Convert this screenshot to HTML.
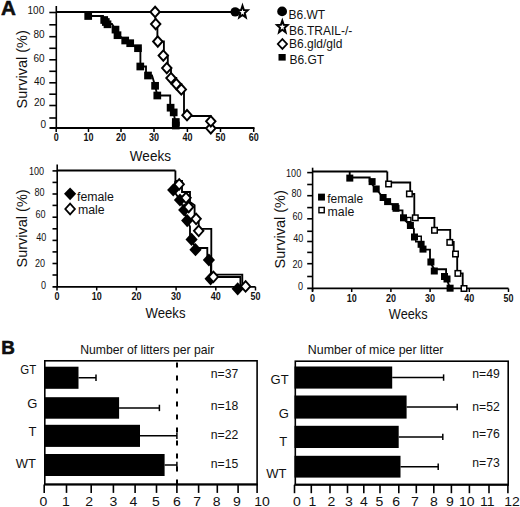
<!DOCTYPE html>
<html><head><meta charset="utf-8"><style>
html,body{margin:0;padding:0;background:#fff;}
svg{display:block;font-family:"Liberation Sans", sans-serif;}
</style></head><body>
<svg width="520" height="507" viewBox="0 0 520 507" fill="#111">
<text x="0.9" y="15.1" font-size="20.6" font-weight="700" text-anchor="start" stroke="#000" stroke-width="0.5">A</text>
<line x1="56.3" y1="6" x2="56.3" y2="128.8" stroke="#000" stroke-width="1.6"/>
<line x1="49.3" y1="12.5" x2="56.3" y2="12.5" stroke="#000" stroke-width="1.6"/>
<line x1="49.3" y1="24.8" x2="56.3" y2="24.8" stroke="#000" stroke-width="1.6"/>
<line x1="49.3" y1="36.7" x2="56.3" y2="36.7" stroke="#000" stroke-width="1.6"/>
<line x1="49.3" y1="48.3" x2="56.3" y2="48.3" stroke="#000" stroke-width="1.6"/>
<line x1="49.3" y1="59.8" x2="56.3" y2="59.8" stroke="#000" stroke-width="1.6"/>
<line x1="49.3" y1="71.3" x2="56.3" y2="71.3" stroke="#000" stroke-width="1.6"/>
<line x1="49.3" y1="82.8" x2="56.3" y2="82.8" stroke="#000" stroke-width="1.6"/>
<line x1="49.3" y1="94.2" x2="56.3" y2="94.2" stroke="#000" stroke-width="1.6"/>
<line x1="49.3" y1="105.5" x2="56.3" y2="105.5" stroke="#000" stroke-width="1.6"/>
<line x1="49.3" y1="118" x2="56.3" y2="118" stroke="#000" stroke-width="1.6"/>
<text transform="translate(44.2,13.8) scale(1.0,1)" x="0" y="0" font-size="10" text-anchor="end" fill="#111">100</text>
<text transform="translate(44.5,38.2) scale(1.0,1)" x="0" y="0" font-size="10" text-anchor="end" fill="#111">80</text>
<text transform="translate(44.5,62.3) scale(1.0,1)" x="0" y="0" font-size="10" text-anchor="end" fill="#111">60</text>
<text transform="translate(45,85) scale(1.0,1)" x="0" y="0" font-size="10" text-anchor="end" fill="#111">40</text>
<text transform="translate(45,105.6) scale(1.0,1)" x="0" y="0" font-size="10" text-anchor="end" fill="#111">20</text>
<text transform="translate(46,127.5) scale(1.0,1)" x="0" y="0" font-size="10" text-anchor="end" fill="#111">0</text>
<text x="0" y="0" font-size="14.5" font-weight="400" text-anchor="middle" transform="translate(26.8,69.3) rotate(-90)" fill="#111">Survival (%)</text>
<line x1="49.5" y1="128" x2="254.5" y2="128" stroke="#000" stroke-width="1.8"/>
<line x1="56.2" y1="128" x2="56.2" y2="132" stroke="#000" stroke-width="1.5"/>
<text transform="translate(56.2,141.3) scale(0.9,1)" x="0" y="0" font-size="10" font-weight="700" text-anchor="middle" fill="#111">0</text>
<line x1="88.5" y1="128" x2="88.5" y2="132" stroke="#000" stroke-width="1.5"/>
<text transform="translate(88.5,141.3) scale(0.9,1)" x="0" y="0" font-size="10" font-weight="700" text-anchor="middle" fill="#111">10</text>
<line x1="121" y1="128" x2="121" y2="132" stroke="#000" stroke-width="1.5"/>
<text transform="translate(121,141.3) scale(0.9,1)" x="0" y="0" font-size="10" font-weight="700" text-anchor="middle" fill="#111">20</text>
<line x1="154" y1="128" x2="154" y2="132" stroke="#000" stroke-width="1.5"/>
<text transform="translate(154,141.3) scale(0.9,1)" x="0" y="0" font-size="10" font-weight="700" text-anchor="middle" fill="#111">30</text>
<line x1="187.4" y1="128" x2="187.4" y2="132" stroke="#000" stroke-width="1.5"/>
<text transform="translate(187.4,141.3) scale(0.9,1)" x="0" y="0" font-size="10" font-weight="700" text-anchor="middle" fill="#111">40</text>
<line x1="220.5" y1="128" x2="220.5" y2="132" stroke="#000" stroke-width="1.5"/>
<text transform="translate(220.5,141.3) scale(0.9,1)" x="0" y="0" font-size="10" font-weight="700" text-anchor="middle" fill="#111">50</text>
<line x1="253.7" y1="128" x2="253.7" y2="132" stroke="#000" stroke-width="1.5"/>
<text transform="translate(253.7,141.3) scale(0.9,1)" x="0" y="0" font-size="10" font-weight="700" text-anchor="middle" fill="#111">60</text>
<text transform="translate(150.4,161.3) scale(0.98,1)" x="0" y="0" font-size="13.8" font-weight="400" text-anchor="middle" fill="#111">Weeks</text>
<line x1="56.3" y1="12" x2="236" y2="12" stroke="#000" stroke-width="1.9"/>
<circle cx="235.2" cy="11.9" r="4.7" fill="#000"/>
<polygon points="242.50,5.76 243.91,9.97 247.83,10.21 244.78,13.05 245.79,17.41 242.50,14.96 239.21,17.41 240.22,13.05 237.17,10.21 241.09,9.97" fill="#fff" stroke="#000" stroke-width="2.0" stroke-linejoin="miter"/>
<polyline points="155,12 155.7,24.1 157.4,24.1 157.4,41.5 163.9,41.5 163.9,55.6 167.8,55.6 167.8,68 171,68 171,78 176.3,78 176.3,84 181.3,84 181.3,89.4 184,89.4 184,116 210.7,116 210.7,128" fill="none" stroke="#000" stroke-width="1.85" stroke-linejoin="miter"/>
<polyline points="56.3,12 88.2,12 88.2,16 103,16 103,20 105.8,20 105.8,24 112,24 115.5,29.6 117.5,35.2 121,37 125,40.5 130,43 138,48.2 140.4,48.2 140.4,66.5 146,66.5 146,75.5 152,75.5 155.1,85.8 157.3,95.5 170.2,95.5 170.2,107.7 173.7,112.4 175.8,125.5" fill="none" stroke="#000" stroke-width="1.85" stroke-linejoin="miter"/>
<rect x="84.35" y="12.15" width="7.7" height="7.7" fill="#000"/>
<rect x="100.35" y="16.15" width="7.7" height="7.7" fill="#000"/>
<rect x="101.95" y="18.15" width="7.7" height="7.7" fill="#000"/>
<rect x="103.65" y="20.45" width="7.7" height="7.7" fill="#000"/>
<rect x="111.65" y="25.75" width="7.7" height="7.7" fill="#000"/>
<rect x="113.65" y="31.35" width="7.7" height="7.7" fill="#000"/>
<rect x="121.35" y="36.65" width="7.7" height="7.7" fill="#000"/>
<rect x="126.35" y="39.35" width="7.7" height="7.7" fill="#000"/>
<rect x="134.15" y="44.35" width="7.7" height="7.7" fill="#000"/>
<rect x="136.45" y="62.65" width="7.7" height="7.7" fill="#000"/>
<rect x="144.15" y="71.65" width="7.7" height="7.7" fill="#000"/>
<rect x="151.25" y="81.95" width="7.7" height="7.7" fill="#000"/>
<rect x="153.45" y="91.65" width="7.7" height="7.7" fill="#000"/>
<rect x="166.75" y="103.85" width="7.7" height="7.7" fill="#000"/>
<rect x="169.85" y="108.55" width="7.7" height="7.7" fill="#000"/>
<rect x="171.95" y="118.15" width="7.7" height="7.7" fill="#000"/>
<rect x="171.95" y="121.65" width="7.7" height="7.7" fill="#000"/>
<polygon points="155.1,6.72 159.80,11.9 155.1,17.08 150.40,11.9" fill="#fff" stroke="#000" stroke-width="1.95"/>
<polygon points="155.7,18.92 160.40,24.1 155.7,29.28 151.00,24.1" fill="#fff" stroke="#000" stroke-width="1.95"/>
<polygon points="157.8,36.32 162.50,41.5 157.8,46.68 153.10,41.5" fill="#fff" stroke="#000" stroke-width="1.95"/>
<polygon points="163.3,50.42 168.00,55.6 163.3,60.78 158.60,55.6" fill="#fff" stroke="#000" stroke-width="1.95"/>
<polygon points="166.8,62.92 171.50,68.1 166.8,73.28 162.10,68.1" fill="#fff" stroke="#000" stroke-width="1.95"/>
<polygon points="171,72.92 175.70,78.1 171,83.28 166.30,78.1" fill="#fff" stroke="#000" stroke-width="1.95"/>
<polygon points="176.3,78.82 181.00,84 176.3,89.18 171.60,84" fill="#fff" stroke="#000" stroke-width="1.95"/>
<polygon points="181.3,84.22 186.00,89.4 181.3,94.58 176.60,89.4" fill="#fff" stroke="#000" stroke-width="1.95"/>
<polygon points="187,110.02 191.70,115.2 187,120.38 182.30,115.2" fill="#fff" stroke="#000" stroke-width="1.95"/>
<polygon points="210.8,123.12 215.50,128.3 210.8,133.48 206.10,128.3" fill="#fff" stroke="#000" stroke-width="1.95"/>
<polygon points="210.8,116.12 215.50,121.3 210.8,126.48 206.10,121.3" fill="#fff" stroke="#000" stroke-width="1.95"/>
<circle cx="282.1" cy="11.4" r="4.9" fill="#000"/>
<text x="288.5" y="19.2" font-size="12" font-weight="400" text-anchor="start">B6.WT</text>
<polygon points="282.30,20.56 283.71,24.77 287.63,25.01 284.58,27.85 285.59,32.21 282.30,29.76 279.01,32.21 280.02,27.85 276.97,25.01 280.89,24.77" fill="#fff" stroke="#000" stroke-width="2.0" stroke-linejoin="miter"/>
<text x="289" y="34.6" font-size="12" font-weight="400" text-anchor="start">B6.TRAIL-/-</text>
<polygon points="282.4,39.10 287.00,44 282.4,48.90 277.80,44" fill="#fff" stroke="#000" stroke-width="1.8"/>
<text x="289" y="48.1" font-size="12" font-weight="400" text-anchor="start">B6.gld/gld</text>
<rect x="278.5" y="54" width="7.2" height="6.6" fill="#000"/>
<text x="289.4" y="64" font-size="12" font-weight="400" text-anchor="start">B6.GT</text>
<line x1="57.2" y1="164.5" x2="57.2" y2="287.2" stroke="#000" stroke-width="1.6"/>
<line x1="52.5" y1="170.9" x2="57.2" y2="170.9" stroke="#000" stroke-width="1.6"/>
<line x1="52.5" y1="182.4" x2="57.2" y2="182.4" stroke="#000" stroke-width="1.6"/>
<line x1="52.5" y1="194" x2="57.2" y2="194" stroke="#000" stroke-width="1.6"/>
<line x1="52.5" y1="205.4" x2="57.2" y2="205.4" stroke="#000" stroke-width="1.6"/>
<line x1="52.5" y1="217.2" x2="57.2" y2="217.2" stroke="#000" stroke-width="1.6"/>
<line x1="52.5" y1="228.8" x2="57.2" y2="228.8" stroke="#000" stroke-width="1.6"/>
<line x1="52.5" y1="240.4" x2="57.2" y2="240.4" stroke="#000" stroke-width="1.6"/>
<line x1="52.5" y1="251.9" x2="57.2" y2="251.9" stroke="#000" stroke-width="1.6"/>
<line x1="52.5" y1="263.5" x2="57.2" y2="263.5" stroke="#000" stroke-width="1.6"/>
<line x1="52.5" y1="275" x2="57.2" y2="275" stroke="#000" stroke-width="1.6"/>
<text transform="translate(44,175.3) scale(0.88,1)" x="0" y="0" font-size="10.3" text-anchor="end" fill="#111">100</text>
<text transform="translate(44.5,195.5) scale(0.88,1)" x="0" y="0" font-size="10.3" text-anchor="end" fill="#111">80</text>
<text transform="translate(45.5,218.2) scale(0.88,1)" x="0" y="0" font-size="10.3" text-anchor="end" fill="#111">60</text>
<text transform="translate(46.4,240.6) scale(0.88,1)" x="0" y="0" font-size="10.3" text-anchor="end" fill="#111">40</text>
<text transform="translate(45,266.7) scale(0.88,1)" x="0" y="0" font-size="10.3" text-anchor="end" fill="#111">20</text>
<text transform="translate(46,289) scale(0.88,1)" x="0" y="0" font-size="10.3" text-anchor="end" fill="#111">0</text>
<text x="0" y="0" font-size="14.5" font-weight="400" text-anchor="middle" transform="translate(26.8,228.4) rotate(-90)" fill="#111">Survival (%)</text>
<line x1="52.5" y1="286.8" x2="255.5" y2="286.8" stroke="#000" stroke-width="1.8"/>
<line x1="57.0" y1="286.8" x2="57.0" y2="290.5" stroke="#000" stroke-width="1.5"/>
<text transform="translate(57.0,299.9) scale(0.9,1)" x="0" y="0" font-size="10" font-weight="700" text-anchor="middle" fill="#111">0</text>
<line x1="96.7" y1="286.8" x2="96.7" y2="290.5" stroke="#000" stroke-width="1.5"/>
<text transform="translate(96.7,299.9) scale(0.9,1)" x="0" y="0" font-size="10" font-weight="700" text-anchor="middle" fill="#111">10</text>
<line x1="136.4" y1="286.8" x2="136.4" y2="290.5" stroke="#000" stroke-width="1.5"/>
<text transform="translate(136.4,299.9) scale(0.9,1)" x="0" y="0" font-size="10" font-weight="700" text-anchor="middle" fill="#111">20</text>
<line x1="176.10000000000002" y1="286.8" x2="176.10000000000002" y2="290.5" stroke="#000" stroke-width="1.5"/>
<text transform="translate(176.10000000000002,299.9) scale(0.9,1)" x="0" y="0" font-size="10" font-weight="700" text-anchor="middle" fill="#111">30</text>
<line x1="215.8" y1="286.8" x2="215.8" y2="290.5" stroke="#000" stroke-width="1.5"/>
<text transform="translate(215.8,299.9) scale(0.9,1)" x="0" y="0" font-size="10" font-weight="700" text-anchor="middle" fill="#111">40</text>
<line x1="255.5" y1="286.8" x2="255.5" y2="290.5" stroke="#000" stroke-width="1.5"/>
<text transform="translate(255.5,299.9) scale(0.9,1)" x="0" y="0" font-size="10" font-weight="700" text-anchor="middle" fill="#111">50</text>
<text transform="translate(165.5,317.6) scale(0.94,1)" x="0" y="0" font-size="14" font-weight="400" text-anchor="middle" fill="#111">Weeks</text>
<line x1="57.2" y1="170.5" x2="175.4" y2="170.5" stroke="#000" stroke-width="1.85"/>
<polyline points="175.4,170.5 175.4,181 182,181 182,192 190,192 190,202 194.6,205.2 194.6,218 198.7,218 198.7,228.9 211.3,228.9 211.3,274.6 242.3,274.6 242.3,286.5" fill="none" stroke="#000" stroke-width="1.85" stroke-linejoin="miter"/>
<polyline points="175.4,181 173.2,190 180,200 184.2,210 187.2,220.6 190,226.8 190,236.3 191.6,239.4 195.5,248 207.3,248 207.3,259.5 210.9,259.5 210.9,277 240.4,277 240.4,288" fill="none" stroke="#000" stroke-width="1.85" stroke-linejoin="miter"/>
<polygon points="173.2,183.41 179.30,190 173.2,196.59 167.10,190" fill="#000"/>
<polygon points="180,193.41 186.10,200 180,206.59 173.90,200" fill="#000"/>
<polygon points="184.2,203.41 190.30,210 184.2,216.59 178.10,210" fill="#000"/>
<polygon points="187.2,214.01 193.30,220.6 187.2,227.19 181.10,220.6" fill="#000"/>
<polygon points="191.6,232.81 197.70,239.4 191.6,245.99 185.50,239.4" fill="#000"/>
<polygon points="195.5,243.11 201.60,249.7 195.5,256.29 189.40,249.7" fill="#000"/>
<polygon points="208.9,253.41 215.00,260 208.9,266.59 202.80,260" fill="#000"/>
<polygon points="210.6,272.21 216.70,278.8 210.6,285.39 204.50,278.8" fill="#000"/>
<polygon points="237.7,282.21 243.80,288.8 237.7,295.39 231.60,288.8" fill="#000"/>
<polygon points="179.2,179.08 183.93,184.3 179.2,189.52 174.47,184.3" fill="#fff" stroke="#000" stroke-width="1.9"/>
<polygon points="186,192.58 190.73,197.8 186,203.02 181.27,197.8" fill="#fff" stroke="#000" stroke-width="1.9"/>
<polygon points="188.7,201.78 193.43,207 188.7,212.22 183.97,207" fill="#fff" stroke="#000" stroke-width="1.9"/>
<polygon points="196.1,213.58 200.83,218.8 196.1,224.02 191.37,218.8" fill="#fff" stroke="#000" stroke-width="1.9"/>
<polygon points="198.7,225.58 203.43,230.8 198.7,236.02 193.97,230.8" fill="#fff" stroke="#000" stroke-width="1.9"/>
<polygon points="213.4,271.58 218.13,276.8 213.4,282.02 208.67,276.8" fill="#fff" stroke="#000" stroke-width="1.9"/>
<polygon points="245.6,281.18 250.33,286.4 245.6,291.62 240.87,286.4" fill="#fff" stroke="#000" stroke-width="1.9"/>
<polygon points="70.1,187.40 76.20,193.8 70.1,200.20 64.00,193.8" fill="#000"/>
<text x="77" y="200.8" font-size="12.3" font-weight="400" text-anchor="start">female</text>
<polygon points="70.1,203.70 74.90,209 70.1,214.30 65.30,209" fill="#fff" stroke="#000" stroke-width="1.8"/>
<text x="78" y="214.3" font-size="12.3" font-weight="400" text-anchor="start">male</text>
<line x1="312.6" y1="167.7" x2="312.6" y2="291.3" stroke="#000" stroke-width="1.6"/>
<line x1="307.2" y1="172.6" x2="312.6" y2="172.6" stroke="#000" stroke-width="1.6"/>
<line x1="307.2" y1="184.5" x2="312.6" y2="184.5" stroke="#000" stroke-width="1.6"/>
<line x1="307.2" y1="195.7" x2="312.6" y2="195.7" stroke="#000" stroke-width="1.6"/>
<line x1="307.2" y1="207.6" x2="312.6" y2="207.6" stroke="#000" stroke-width="1.6"/>
<line x1="307.2" y1="218.8" x2="312.6" y2="218.8" stroke="#000" stroke-width="1.6"/>
<line x1="307.2" y1="231.3" x2="312.6" y2="231.3" stroke="#000" stroke-width="1.6"/>
<line x1="307.2" y1="241.5" x2="312.6" y2="241.5" stroke="#000" stroke-width="1.6"/>
<line x1="307.2" y1="252.4" x2="312.6" y2="252.4" stroke="#000" stroke-width="1.6"/>
<line x1="307.2" y1="263.7" x2="312.6" y2="263.7" stroke="#000" stroke-width="1.6"/>
<line x1="307.2" y1="276.5" x2="312.6" y2="276.5" stroke="#000" stroke-width="1.6"/>
<text transform="translate(301.2,176.6) scale(0.88,1)" x="0" y="0" font-size="10.3" text-anchor="end" fill="#111">100</text>
<text transform="translate(301.6,197.1) scale(0.88,1)" x="0" y="0" font-size="10.3" text-anchor="end" fill="#111">80</text>
<text transform="translate(302.5,219.6) scale(0.88,1)" x="0" y="0" font-size="10.3" text-anchor="end" fill="#111">60</text>
<text transform="translate(303.4,242.3) scale(0.88,1)" x="0" y="0" font-size="10.3" text-anchor="end" fill="#111">40</text>
<text transform="translate(302.5,268.2) scale(0.88,1)" x="0" y="0" font-size="10.3" text-anchor="end" fill="#111">20</text>
<text transform="translate(303,289.8) scale(0.88,1)" x="0" y="0" font-size="10.3" text-anchor="end" fill="#111">0</text>
<text x="0" y="0" font-size="14.5" font-weight="400" text-anchor="middle" transform="translate(284.6,229.3) rotate(-90)" fill="#111">Survival (%)</text>
<line x1="307.2" y1="288.3" x2="508.5" y2="288.3" stroke="#000" stroke-width="1.8"/>
<line x1="312.5" y1="288.5" x2="312.5" y2="292" stroke="#000" stroke-width="1.5"/>
<text transform="translate(312.5,302.2) scale(0.9,1)" x="0" y="0" font-size="10" font-weight="700" text-anchor="middle" fill="#111">0</text>
<line x1="351.7" y1="288.5" x2="351.7" y2="292" stroke="#000" stroke-width="1.5"/>
<text transform="translate(351.7,302.2) scale(0.9,1)" x="0" y="0" font-size="10" font-weight="700" text-anchor="middle" fill="#111">10</text>
<line x1="390.9" y1="288.5" x2="390.9" y2="292" stroke="#000" stroke-width="1.5"/>
<text transform="translate(390.9,302.2) scale(0.9,1)" x="0" y="0" font-size="10" font-weight="700" text-anchor="middle" fill="#111">20</text>
<line x1="430.1" y1="288.5" x2="430.1" y2="292" stroke="#000" stroke-width="1.5"/>
<text transform="translate(430.1,302.2) scale(0.9,1)" x="0" y="0" font-size="10" font-weight="700" text-anchor="middle" fill="#111">30</text>
<line x1="469.3" y1="288.5" x2="469.3" y2="292" stroke="#000" stroke-width="1.5"/>
<text transform="translate(469.3,302.2) scale(0.9,1)" x="0" y="0" font-size="10" font-weight="700" text-anchor="middle" fill="#111">40</text>
<line x1="508.5" y1="288.5" x2="508.5" y2="292" stroke="#000" stroke-width="1.5"/>
<text transform="translate(508.5,302.2) scale(0.9,1)" x="0" y="0" font-size="10" font-weight="700" text-anchor="middle" fill="#111">50</text>
<text transform="translate(408.2,318.5) scale(0.91,1)" x="0" y="0" font-size="14" font-weight="400" text-anchor="middle" fill="#111">Weeks</text>
<line x1="312.6" y1="171.5" x2="387.3" y2="171.5" stroke="#000" stroke-width="1.85"/>
<polyline points="387.3,171.5 387.3,182.5 410.2,182.5 410.2,194 414.3,194 414.3,218 434.4,218 434.4,229.8 450.2,229.8 450.2,242 453.7,242 453.7,254 457.2,254 457.2,273.4 462.7,273.4 462.7,288.5" fill="none" stroke="#000" stroke-width="1.85" stroke-linejoin="miter"/>
<polyline points="349.7,171.5 349.7,177.5 369.7,177.5 369.7,181.6 376.2,189 383.1,197.5 387.6,201.6 395.3,206.6 396,210.3 402.5,210.3 402.5,217.8 410.4,225.5 413.9,228.8 413.9,236.6 421,243.5 423,249.6 430,249.6 430,262 434.3,269.2 446.1,269.2 446.1,277.5 450.1,288.2" fill="none" stroke="#000" stroke-width="1.85" stroke-linejoin="miter"/>
<rect x="406.70" y="217.50" width="4.199999999999999" height="4.199999999999999" fill="#fff" stroke="#000" stroke-width="1.4"/>
<rect x="415.75" y="236.25" width="5.5" height="5.5" fill="#fff" stroke="#000" stroke-width="1.5"/>
<rect x="346.30" y="174.60" width="7" height="7" fill="#000"/>
<rect x="368.60" y="178.10" width="7" height="7" fill="#000"/>
<rect x="372.70" y="185.50" width="7" height="7" fill="#000"/>
<rect x="379.60" y="194.00" width="7" height="7" fill="#000"/>
<rect x="384.10" y="198.10" width="7" height="7" fill="#000"/>
<rect x="391.80" y="203.10" width="7" height="7" fill="#000"/>
<rect x="392.50" y="204.80" width="7" height="7" fill="#000"/>
<rect x="400.00" y="214.30" width="7" height="7" fill="#000"/>
<rect x="406.90" y="222.00" width="7" height="7" fill="#000"/>
<rect x="411.00" y="233.50" width="7" height="7" fill="#000"/>
<rect x="417.60" y="240.80" width="7" height="7" fill="#000"/>
<rect x="419.50" y="245.60" width="7" height="7" fill="#000"/>
<rect x="427.40" y="258.50" width="7" height="7" fill="#000"/>
<rect x="430.80" y="267.50" width="7" height="7" fill="#000"/>
<rect x="441.00" y="273.00" width="7" height="7" fill="#000"/>
<rect x="443.50" y="275.50" width="7" height="7" fill="#000"/>
<rect x="446.60" y="284.70" width="7" height="7" fill="#000"/>
<rect x="385.85" y="181.25" width="5.5" height="5.5" fill="#fff" stroke="#000" stroke-width="1.5"/>
<rect x="406.65" y="191.15" width="5.5" height="5.5" fill="#fff" stroke="#000" stroke-width="1.5"/>
<rect x="412.55" y="215.05" width="5.5" height="5.5" fill="#fff" stroke="#000" stroke-width="1.5"/>
<rect x="431.75" y="227.55" width="5.5" height="5.5" fill="#fff" stroke="#000" stroke-width="1.5"/>
<rect x="447.05" y="239.65" width="5.5" height="5.5" fill="#fff" stroke="#000" stroke-width="1.5"/>
<rect x="452.75" y="251.25" width="5.5" height="5.5" fill="#fff" stroke="#000" stroke-width="1.5"/>
<rect x="455.15" y="270.65" width="5.5" height="5.5" fill="#fff" stroke="#000" stroke-width="1.5"/>
<rect x="461.25" y="285.75" width="5.5" height="5.5" fill="#fff" stroke="#000" stroke-width="1.5"/>
<rect x="318.05" y="193.65" width="6.9" height="6.9" fill="#000"/>
<text x="327.2" y="202.6" font-size="12" font-weight="400" text-anchor="start">female</text>
<rect x="318.95" y="207.45" width="5.300000000000001" height="5.300000000000001" fill="#fff" stroke="#000" stroke-width="1.4"/>
<text x="327.6" y="215.6" font-size="12.3" font-weight="400" text-anchor="start">male</text>
<text transform="translate(1.2,353.7) scale(1.07,1)" font-size="17.6" font-weight="700" stroke="#000" stroke-width="0.5">B</text>
<text x="80.2" y="353.9" font-size="12.2" font-weight="400" text-anchor="start">Number of litters per pair</text>
<rect x="44.8" y="360.8" width="212.3" height="123.6" fill="none" stroke="#000" stroke-width="1.6"/>
<line x1="44" y1="484.4" x2="257.8" y2="484.4" stroke="#000" stroke-width="2"/>
<line x1="44.2" y1="484.4" x2="44.2" y2="492.9" stroke="#000" stroke-width="1.6"/>
<line x1="66.5" y1="484.4" x2="66.5" y2="492.9" stroke="#000" stroke-width="1.6"/>
<line x1="91.2" y1="484.4" x2="91.2" y2="492.9" stroke="#000" stroke-width="1.6"/>
<line x1="113.4" y1="484.4" x2="113.4" y2="492.9" stroke="#000" stroke-width="1.6"/>
<line x1="135.1" y1="484.4" x2="135.1" y2="492.9" stroke="#000" stroke-width="1.6"/>
<line x1="156.5" y1="484.4" x2="156.5" y2="492.9" stroke="#000" stroke-width="1.6"/>
<line x1="176.9" y1="484.4" x2="176.9" y2="492.9" stroke="#000" stroke-width="1.6"/>
<line x1="198.6" y1="484.4" x2="198.6" y2="492.9" stroke="#000" stroke-width="1.6"/>
<line x1="217.3" y1="484.4" x2="217.3" y2="492.9" stroke="#000" stroke-width="1.6"/>
<line x1="238.1" y1="484.4" x2="238.1" y2="492.9" stroke="#000" stroke-width="1.6"/>
<line x1="257.1" y1="484.4" x2="257.1" y2="492.9" stroke="#000" stroke-width="1.6"/>
<text transform="translate(43.5,506) scale(1.08,1)" x="0" y="0" font-size="13" font-weight="400" text-anchor="middle" fill="#111">0</text>
<text transform="translate(65.8,506) scale(1.08,1)" x="0" y="0" font-size="13" font-weight="400" text-anchor="middle" fill="#111">1</text>
<text transform="translate(89.2,506) scale(1.08,1)" x="0" y="0" font-size="13" font-weight="400" text-anchor="middle" fill="#111">2</text>
<text transform="translate(113.4,506) scale(1.08,1)" x="0" y="0" font-size="13" font-weight="400" text-anchor="middle" fill="#111">3</text>
<text transform="translate(133.5,506) scale(1.08,1)" x="0" y="0" font-size="13" font-weight="400" text-anchor="middle" fill="#111">4</text>
<text transform="translate(156,506) scale(1.08,1)" x="0" y="0" font-size="13" font-weight="400" text-anchor="middle" fill="#111">5</text>
<text transform="translate(176.9,506) scale(1.08,1)" x="0" y="0" font-size="13" font-weight="400" text-anchor="middle" fill="#111">6</text>
<text transform="translate(197.1,506) scale(1.08,1)" x="0" y="0" font-size="13" font-weight="400" text-anchor="middle" fill="#111">7</text>
<text transform="translate(216.7,506) scale(1.08,1)" x="0" y="0" font-size="13" font-weight="400" text-anchor="middle" fill="#111">8</text>
<text transform="translate(236.9,506) scale(1.08,1)" x="0" y="0" font-size="13" font-weight="400" text-anchor="middle" fill="#111">9</text>
<text transform="translate(262,506) scale(1.08,1)" x="0" y="0" font-size="13" font-weight="400" text-anchor="middle" fill="#111">10</text>
<rect x="44" y="366.7" width="34.5" height="22.100000000000023" fill="#000"/>
<line x1="78.5" y1="377.75" x2="96" y2="377.75" stroke="#000" stroke-width="1.5"/>
<line x1="96" y1="374.55" x2="96" y2="380.95" stroke="#000" stroke-width="1.5"/>
<rect x="44" y="397.2" width="75.1" height="21.5" fill="#000"/>
<line x1="119.1" y1="407.95" x2="159.4" y2="407.95" stroke="#000" stroke-width="1.5"/>
<line x1="159.4" y1="404.75" x2="159.4" y2="411.15" stroke="#000" stroke-width="1.5"/>
<rect x="44" y="424.8" width="96" height="22.099999999999966" fill="#000"/>
<line x1="140" y1="435.85" x2="176.9" y2="435.85" stroke="#000" stroke-width="1.5"/>
<line x1="176.9" y1="432.65000000000003" x2="176.9" y2="439.05" stroke="#000" stroke-width="1.5"/>
<rect x="44" y="454" width="120.6" height="22" fill="#000"/>
<line x1="164.6" y1="465.0" x2="176.9" y2="465.0" stroke="#000" stroke-width="1.5"/>
<line x1="176.9" y1="461.8" x2="176.9" y2="468.2" stroke="#000" stroke-width="1.5"/>
<line x1="177" y1="362.5" x2="177" y2="484" stroke="#000" stroke-width="2" stroke-dasharray="5 8"/>
<text transform="translate(36.2,374.20000000000005) scale(0.88,1)" x="0" y="0" font-size="13" text-anchor="end" fill="#111">GT</text>
<text transform="translate(37.3,407.8) scale(1,1)" x="0" y="0" font-size="13" text-anchor="end" fill="#111">G</text>
<text transform="translate(36.5,436.0) scale(1,1)" x="0" y="0" font-size="13" text-anchor="end" fill="#111">T</text>
<text transform="translate(36,467.6) scale(1,1)" x="0" y="0" font-size="13" text-anchor="end" fill="#111">WT</text>
<text x="210.8" y="378.2" font-size="12.2" font-weight="400" text-anchor="start">n=37</text>
<text x="210.8" y="410.40000000000003" font-size="12.2" font-weight="400" text-anchor="start">n=18</text>
<text x="210.8" y="438.5" font-size="12.2" font-weight="400" text-anchor="start">n=22</text>
<text x="210.8" y="468.1" font-size="12.2" font-weight="400" text-anchor="start">n=15</text>
<text x="307.8" y="353.9" font-size="12.4" font-weight="400" text-anchor="start">Number of mice per litter</text>
<rect x="295.3" y="361.2" width="212.9" height="123.4" fill="none" stroke="#000" stroke-width="1.6"/>
<line x1="294.5" y1="484.8" x2="509" y2="484.8" stroke="#000" stroke-width="2"/>
<line x1="294.5" y1="484.8" x2="294.5" y2="493.2" stroke="#000" stroke-width="1.6"/>
<line x1="311.3" y1="484.8" x2="311.3" y2="493.2" stroke="#000" stroke-width="1.6"/>
<line x1="330" y1="484.8" x2="330" y2="493.2" stroke="#000" stroke-width="1.6"/>
<line x1="347.5" y1="484.8" x2="347.5" y2="493.2" stroke="#000" stroke-width="1.6"/>
<line x1="363.8" y1="484.8" x2="363.8" y2="493.2" stroke="#000" stroke-width="1.6"/>
<line x1="380" y1="484.8" x2="380" y2="493.2" stroke="#000" stroke-width="1.6"/>
<line x1="398.8" y1="484.8" x2="398.8" y2="493.2" stroke="#000" stroke-width="1.6"/>
<line x1="416.3" y1="484.8" x2="416.3" y2="493.2" stroke="#000" stroke-width="1.6"/>
<line x1="433.8" y1="484.8" x2="433.8" y2="493.2" stroke="#000" stroke-width="1.6"/>
<line x1="451.4" y1="484.8" x2="451.4" y2="493.2" stroke="#000" stroke-width="1.6"/>
<line x1="469.4" y1="484.8" x2="469.4" y2="493.2" stroke="#000" stroke-width="1.6"/>
<line x1="489" y1="484.8" x2="489" y2="493.2" stroke="#000" stroke-width="1.6"/>
<line x1="507.9" y1="484.8" x2="507.9" y2="493.2" stroke="#000" stroke-width="1.6"/>
<text transform="translate(296.8,505.6) scale(1.08,1)" x="0" y="0" font-size="13" font-weight="400" text-anchor="middle" fill="#111">0</text>
<text transform="translate(312.5,505.6) scale(1.08,1)" x="0" y="0" font-size="13" font-weight="400" text-anchor="middle" fill="#111">1</text>
<text transform="translate(331.3,505.6) scale(1.08,1)" x="0" y="0" font-size="13" font-weight="400" text-anchor="middle" fill="#111">2</text>
<text transform="translate(348.8,505.6) scale(1.08,1)" x="0" y="0" font-size="13" font-weight="400" text-anchor="middle" fill="#111">3</text>
<text transform="translate(363.8,505.6) scale(1.08,1)" x="0" y="0" font-size="13" font-weight="400" text-anchor="middle" fill="#111">4</text>
<text transform="translate(379.5,505.6) scale(1.08,1)" x="0" y="0" font-size="13" font-weight="400" text-anchor="middle" fill="#111">5</text>
<text transform="translate(396.2,505.6) scale(1.08,1)" x="0" y="0" font-size="13" font-weight="400" text-anchor="middle" fill="#111">6</text>
<text transform="translate(415,505.6) scale(1.08,1)" x="0" y="0" font-size="13" font-weight="400" text-anchor="middle" fill="#111">7</text>
<text transform="translate(433.8,505.6) scale(1.08,1)" x="0" y="0" font-size="13" font-weight="400" text-anchor="middle" fill="#111">8</text>
<text transform="translate(450,505.6) scale(1.08,1)" x="0" y="0" font-size="13" font-weight="400" text-anchor="middle" fill="#111">9</text>
<text transform="translate(466.7,505.6) scale(1.08,1)" x="0" y="0" font-size="13" font-weight="400" text-anchor="middle" fill="#111">10</text>
<text transform="translate(487.2,505.6) scale(1.08,1)" x="0" y="0" font-size="13" font-weight="400" text-anchor="middle" fill="#111">11</text>
<text transform="translate(512,505.6) scale(1.08,1)" x="0" y="0" font-size="13" font-weight="400" text-anchor="middle" fill="#111">12</text>
<rect x="294.5" y="366.5" width="97.69999999999999" height="22.100000000000023" fill="#000"/>
<line x1="392.2" y1="377.55" x2="443.6" y2="377.55" stroke="#000" stroke-width="1.5"/>
<line x1="443.6" y1="374.35" x2="443.6" y2="380.75" stroke="#000" stroke-width="1.5"/>
<rect x="294.5" y="395.5" width="112.10000000000002" height="23.100000000000023" fill="#000"/>
<line x1="406.6" y1="407.05" x2="457.2" y2="407.05" stroke="#000" stroke-width="1.5"/>
<line x1="457.2" y1="403.85" x2="457.2" y2="410.25" stroke="#000" stroke-width="1.5"/>
<rect x="294.5" y="425.8" width="104.19999999999999" height="22.19999999999999" fill="#000"/>
<line x1="398.7" y1="436.9" x2="442.8" y2="436.9" stroke="#000" stroke-width="1.5"/>
<line x1="442.8" y1="433.7" x2="442.8" y2="440.09999999999997" stroke="#000" stroke-width="1.5"/>
<rect x="294.5" y="455.8" width="106.0" height="21.80000000000001" fill="#000"/>
<line x1="400.5" y1="466.70000000000005" x2="438.2" y2="466.70000000000005" stroke="#000" stroke-width="1.5"/>
<line x1="438.2" y1="463.50000000000006" x2="438.2" y2="469.90000000000003" stroke="#000" stroke-width="1.5"/>
<text transform="translate(288.6,383.8) scale(1,1)" x="0" y="0" font-size="13" text-anchor="end" fill="#111">GT</text>
<text transform="translate(288.9,418.1) scale(1,1)" x="0" y="0" font-size="13" text-anchor="end" fill="#111">G</text>
<text transform="translate(287.2,445.6) scale(1,1)" x="0" y="0" font-size="13" text-anchor="end" fill="#111">T</text>
<text transform="translate(286.5,477.8) scale(1,1)" x="0" y="0" font-size="13" text-anchor="end" fill="#111">WT</text>
<text x="472.3" y="377.7" font-size="12.2" font-weight="400" text-anchor="start">n=49</text>
<text x="472.3" y="411.1" font-size="12.2" font-weight="400" text-anchor="start">n=52</text>
<text x="472.3" y="437.7" font-size="12.2" font-weight="400" text-anchor="start">n=76</text>
<text x="472.3" y="467.40000000000003" font-size="12.2" font-weight="400" text-anchor="start">n=73</text>
</svg>
</body></html>
